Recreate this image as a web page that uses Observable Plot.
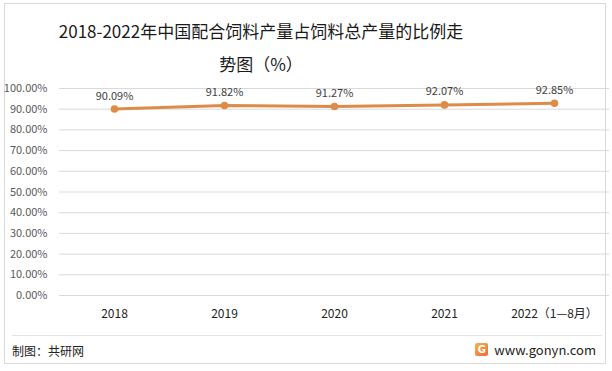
<!DOCTYPE html>
<html>
<head>
<meta charset="utf-8">
<script src="https://cdn.jsdelivr.net/npm/d3@7"></script>
<script src="https://cdn.jsdelivr.net/npm/@observablehq/plot@0.6"></script>
<style>
  html, body { margin: 0; padding: 0; background: #fff; }
  #wrap { position: relative; width: 612px; height: 371px; overflow: hidden; font-family: "Noto Sans CJK SC", "Noto Sans", sans-serif; }
  #frame { position: absolute; left: 4px; top: 3px; width: 602px; height: 361px; border: 1px solid #d9d9d9; box-sizing: border-box; }
  #title { position: absolute; left: 0; top: 14px; width: 522px; text-align: center; font-size: 17px; line-height: 33px; color: #1a1a1a; }
  #chart { position: absolute; left: 0; top: 78px; }
  #sep { position: absolute; left: 12px; top: 335px; width: 590px; height: 1px; background: #e3e3e3; }
  #credit { position: absolute; left: 12px; top: 342px; font-size: 12px; color: #222; }
  #site { position: absolute; right: 16px; top: 340px; font-size: 13px; color: #222; display: flex; align-items: center; }
  #logo { width: 13px; height: 13px; border-radius: 2px; background: linear-gradient(135deg, #f9b24a, #ef6a3a); color: #fff; font-size: 10px; font-weight: bold; line-height: 13px; text-align: center; margin-right: 6px; font-family: "DejaVu Sans", sans-serif; }
</style>
</head>
<body>
<div id="wrap">
  <div id="frame"></div>
  <div id="title">2018-2022年中国配合饲料产量占饲料总产量的比例走<br>势图（%）</div>
  <div id="chart"></div>
  <div id="sep"></div>
  <div id="credit">制图：共研网</div>
  <div id="site"><span id="logo">G</span>www.gonyn.com</div>
</div>
<script>
const years = ["2018", "2019", "2020", "2021", "2022（1—8月）"];
const shares = [90.09, 91.82, 91.27, 92.07, 92.85];
const yTicks = [0, 10, 20, 30, 40, 50, 60, 70, 80, 90, 100];

const data = years.map((y, i) => ({year: y, value: shares[i]}));
const fmt = v => d3.format(".2f")(v) + "%";

const chart = Plot.plot({
  width: 612,
  height: 247,
  marginLeft: 59,
  marginRight: 3,
  marginTop: 10,
  marginBottom: 30,
  style: {fontFamily: '"Noto Sans CJK SC", "Noto Sans", sans-serif', background: "transparent"},
  x: {type: "point", domain: years, padding: 0.5},
  y: {domain: [0, 100]},
  marks: [
    Plot.gridY(yTicks, {stroke: "#d9d9d9", strokeOpacity: 1, strokeWidth: 1}),
    Plot.axisY(yTicks, {tickSize: 0, tickPadding: 12, tickFormat: fmt, fontSize: 11, fill: "#595959", label: null}),
    Plot.axisX({tickSize: 0, tickPadding: 14, fontSize: 12, fill: "#222", label: null}),
    Plot.line(data, {x: "year", y: "value", stroke: "#DD8C48", strokeWidth: 3}),
    Plot.dot(data, {x: "year", y: "value", fill: "#DD8C48", r: 3.8}),
    Plot.text(data, {x: "year", y: "value", text: d => fmt(d.value), dy: -13, fontSize: 11, fill: "#404040"})
  ]
});
document.getElementById("chart").appendChild(chart);
</script>
</body>
</html>
